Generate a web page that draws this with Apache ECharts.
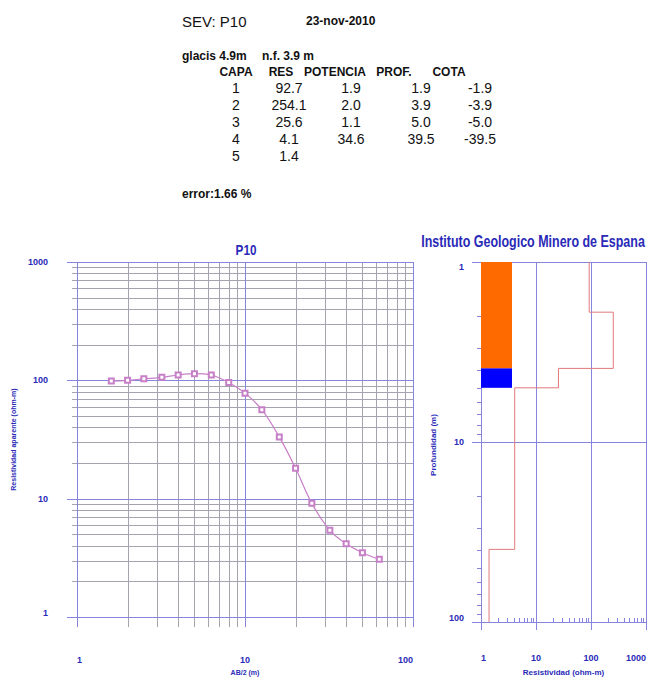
<!DOCTYPE html>
<html>
<head>
<meta charset="utf-8">
<script src="https://cdn.jsdelivr.net/npm/echarts@6/dist/echarts.min.js"></script>
<style>
  html, body { margin: 0; padding: 0; background: #fff; }
  #chart { width: 649px; height: 681px; }
</style>
</head>
<body>
<div id="chart"></div>
<script>
// Sondeo eléctrico vertical P10 - datos de campo e interpretación
const sondeo = 'P10';
const fecha = '23-nov-2010';
const cotaBoca = 'glacis 4.9m';
const nivelFreatico = 'n.f. 3.9 m';
const errorAjuste = 'error:1.66 %';
const instituto = 'Instituto Geologico Minero de Espana';

// Curva de campo: AB/2 (m) y resistividad aparente (ohm-m)
const abMedio = [1.6, 2, 2.5, 3.2, 4, 5, 6.3, 8, 10, 12.6, 16, 20, 25, 32, 40, 50, 63];
const rhoAparente = [98.6, 100, 103, 106, 111, 114, 111, 96, 78, 56.6, 33.3, 18.1, 9.14, 5.41, 4.16, 3.50, 3.08];

// Modelo de capas
const capa = [1, 2, 3, 4, 5];
const res = [92.7, 254.1, 25.6, 4.1, 1.4];
const potencia = [1.9, 2.0, 1.1, 34.6];
const prof = [1.9, 3.9, 5.0, 39.5];
const cota = [-1.9, -3.9, -5.0, -39.5];

// Cabeceras de la tabla
const cabeceras = ['CAPA', 'RES', 'POTENCIA', 'PROF.', 'COTA'];

// Ejes
const abRange = [1, 100];
const rhoRange = [1, 1000];
const resRange = [1, 1000];
const profRange = [1, 100];
const divisores = [2, 3, 4, 5, 6, 7, 8, 9];

function minorsOf(decades) {
  const out = [];
  decades.forEach(d => divisores.forEach(k => out.push(k * d)));
  return out;
}
function fmt(v, dec) { return v.toFixed(dec); }

// Columna litológica: capas superficiales hasta el nivel freático y capa saturada
const columnaTramos = [[profRange[0], prof[1]], [prof[1], prof[2]]];
const columnaColores = ['#ff6a00', '#0000ff'];

// Curva escalonada del modelo (resistividad frente a profundidad)
const escalon = [];
(function () {
  let d0 = profRange[0];
  res.forEach((r, i) => {
    const d1 = i < prof.length ? prof[i] : profRange[1];
    escalon.push([r, d0], [r, d1]);
    d0 = d1;
  });
})();

const BLUE_TXT = '#2a2ab8';
const MAJOR = '#8585de';
const MINOR = '#a4a4b0';
const SANS = '"Liberation Sans", Arial, sans-serif';

// Líneas de rejilla dibujadas a través de las escalas de cada eje
function rules(gridIdx, dir, values, color, extStart, extEnd, z, refOther) {
  return {
    type: 'custom',
    xAxisIndex: gridIdx,
    yAxisIndex: gridIdx,
    silent: true,
    clip: false,
    z: z,
    data: values.map(v => dir === 'v' || dir === 'tb' ? [v, refOther] : [refOther, v]),
    renderItem: function (params, api) {
      const cs = params.coordSys;
      const p = api.coord([api.value(0), api.value(1)]);
      let shape;
      if (dir === 'v') {
        const x = Math.round(p[0]) + 0.5;
        shape = { x1: x, y1: cs.y + cs.height + extStart, x2: x, y2: cs.y - extEnd };
      } else if (dir === 'h') {
        const y = Math.round(p[1]) + 0.5;
        shape = { x1: cs.x - extStart, y1: y, x2: cs.x + cs.width + extEnd, y2: y };
      } else if (dir === 'tb') {
        // marca corta sobre el eje inferior
        const x = Math.round(p[0]) + 0.5;
        shape = { x1: x, y1: cs.y + cs.height, x2: x, y2: cs.y + cs.height - extStart };
      } else {
        // marca corta a la izquierda del eje vertical
        const y = Math.round(p[1]) + 0.5;
        shape = { x1: cs.x, y1: y, x2: cs.x - extStart, y2: y };
      }
      return { type: 'line', shape: shape, style: { stroke: color, lineWidth: 1 } };
    }
  };
}

// Texto de la cabecera y la tabla
const colCentrosCab = [236, 281, 335, 394, 449];
const colCentrosVal = [236, 289, 351, 421, 480];
const filasY = [88, 105, 122, 139, 156];
const graphics = [];
function txt(text, x, y, font, align, color, sx) {
  graphics.push({
    type: 'text', silent: true,
    x: x, y: y, scaleX: sx || 1,
    style: { text: text, x: 0, y: 0, font: font, fill: color || '#111',
      align: align || 'left', verticalAlign: 'middle', textAlign: align || 'left', textVerticalAlign: 'middle' }
  });
}
txt('SEV: ' + sondeo, 182, 21, '15px ' + SANS);
txt(fecha, 306, 21, 'bold 12px ' + SANS);
txt(cotaBoca, 182, 56, 'bold 12px ' + SANS);
txt(nivelFreatico, 262, 56, 'bold 12px ' + SANS);
cabeceras.forEach((c, i) => txt(c, colCentrosCab[i], 72, 'bold 12px ' + SANS, 'center'));
capa.forEach((c, i) => {
  const fila = [String(c), fmt(res[i], 1)];
  if (i < prof.length) fila.push(fmt(potencia[i], 1), fmt(prof[i], 1), fmt(cota[i], 1));
  fila.forEach((v, j) => txt(v, colCentrosVal[j], filasY[i], '14px ' + SANS, 'center'));
});
txt(errorAjuste, 182, 194, 'bold 12px ' + SANS);
txt(sondeo, 246, 250, 'bold 15px ' + SANS, 'center', BLUE_TXT, 0.78);
txt(instituto, 533, 241, 'bold 16px ' + SANS, 'center', BLUE_TXT, 0.78);

const labelStyle = { color: BLUE_TXT, fontFamily: SANS, fontWeight: 'bold', fontSize: 9,
  formatter: v => String(v) };
const nameStyle = { color: BLUE_TXT, fontFamily: SANS, fontWeight: 'bold', fontSize: 7 };
const hidden = { axisLine: { show: false }, axisTick: { show: false }, splitLine: { show: false }, minorTick: { show: false } };

const chart = echarts.init(document.getElementById('chart'), null, { renderer: 'svg' });
chart.setOption({
  animation: false,
  backgroundColor: '#fff',
  graphic: graphics,
  grid: [
    { left: 77, top: 262, width: 336, height: 360 },
    { left: 481, top: 262, width: 166, height: 360 }
  ],
  xAxis: [
    Object.assign({ gridIndex: 0, type: 'log', logBase: 10, min: abRange[0], max: abRange[1],
      axisLabel: Object.assign({ margin: 38, alignMinLabel: 'left', alignMaxLabel: 'right' }, labelStyle),
      name: 'AB/2 (m)', nameLocation: 'middle', nameGap: 51, nameTextStyle: nameStyle }, hidden),
    Object.assign({ gridIndex: 1, type: 'log', logBase: 10, min: resRange[0], max: resRange[1],
      axisLabel: Object.assign({ margin: 31, alignMinLabel: 'left', alignMaxLabel: 'right' }, labelStyle),
      name: 'Resistividad (ohm-m)', nameLocation: 'middle', nameGap: 46,
      nameTextStyle: Object.assign({}, nameStyle, { fontSize: 8 }) }, hidden)
  ],
  yAxis: [
    Object.assign({ gridIndex: 0, type: 'log', logBase: 10, min: rhoRange[0], max: rhoRange[1],
      axisLabel: Object.assign({ margin: 29, verticalAlignMinLabel: 'bottom' }, labelStyle),
      name: 'Resistividad aparente (ohm-m)', nameLocation: 'middle', nameGap: 60, nameTextStyle: nameStyle }, hidden),
    Object.assign({ gridIndex: 1, type: 'log', logBase: 10, min: profRange[0], max: profRange[1], inverse: true,
      axisLabel: Object.assign({ margin: 17, verticalAlignMinLabel: 'top', verticalAlignMaxLabel: 'bottom' }, labelStyle),
      name: 'Profundidad (m)', nameLocation: 'middle', nameGap: 44,
      nameTextStyle: Object.assign({}, nameStyle, { fontSize: 8, padding: [0, 6, 0, 0] }) }, hidden)
  ],
  series: [
    // rejilla del gráfico de campo
    rules(0, 'v', minorsOf([1, 10]), MINOR, 10, 0, 1, rhoRange[0]),
    rules(0, 'h', minorsOf([1, 10, 100]), MINOR, 5, 0, 1, abRange[0]),
    rules(0, 'v', [1, 10, 100], MAJOR, 10, 0, 2, rhoRange[0]),
    rules(0, 'h', [1, 10, 100, 1000], MAJOR, 10, 0, 2, abRange[0]),
    // rejilla del gráfico del modelo
    rules(1, 'tb', minorsOf([1, 10, 100]), MAJOR, 4, 0, 1, profRange[0]),
    rules(1, 'tl', minorsOf([1, 10]), MAJOR, 4, 0, 1, resRange[0]),
    rules(1, 'v', [1, 10, 100, 1000], MAJOR, 8, 0, 2, profRange[0]),
    rules(1, 'h', [1, 10, 100], MAJOR, 9, 0, 2, resRange[0]),
    {
      name: 'Resistividad aparente',
      type: 'line',
      xAxisIndex: 0, yAxisIndex: 0,
      data: abMedio.map((a, i) => [a, rhoAparente[i]]),
      smooth: 0.35,
      symbol: 'emptyRect',
      symbolSize: 5,
      z: 5,
      lineStyle: { color: '#c77fc7', width: 1.2 },
      itemStyle: { color: '#c77fc7', borderColor: '#b870b8', borderWidth: 1 }
    },
    {
      name: 'Columna',
      type: 'custom',
      xAxisIndex: 1, yAxisIndex: 1,
      z: 4,
      data: columnaTramos,
      renderItem: function (params, api) {
        const p0 = api.coord([resRange[0], api.value(0)]);
        const p1 = api.coord([resRange[0], api.value(1)]);
        return { type: 'rect', shape: { x: p0[0], y: p0[1], width: 31, height: p1[1] - p0[1] },
          style: { fill: columnaColores[params.dataIndex] } };
      }
    },
    {
      name: 'Modelo',
      type: 'line',
      xAxisIndex: 1, yAxisIndex: 1,
      data: escalon,
      symbol: 'none',
      z: 3,
      lineStyle: { color: '#e07a7a', width: 1 }
    }
  ]
});
</script>
</body>
</html>
